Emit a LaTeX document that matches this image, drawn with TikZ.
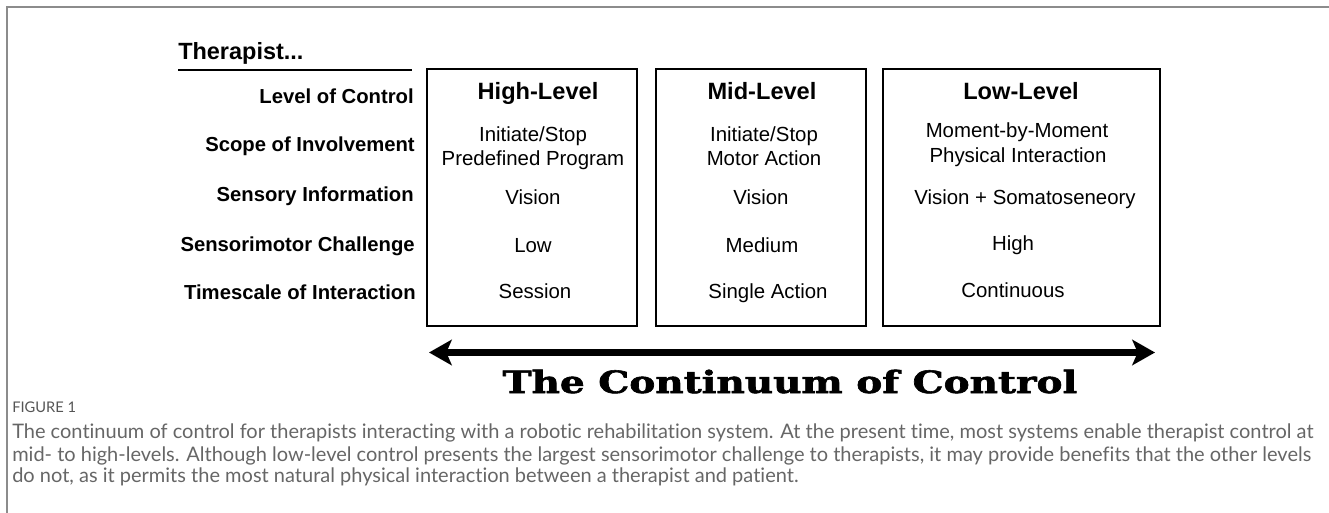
\documentclass[tikz,border=0pt]{standalone}
\usepackage{fontspec}
\setmainfont{Liberation Sans}
\newfontfamily\capfont{Lato}[Ligatures={NoCommon}]
\newfontfamily\titlefont{DejaVu Serif}[BoldFeatures={FakeBold=1.8}]
\usetikzlibrary{arrows.meta}
\definecolor{framegray}{HTML}{8C8C8C}
\definecolor{capgray}{HTML}{666666}
\definecolor{figgray}{HTML}{555555}
\tikzset{
  lab/.style={font=\bfseries\fontsize{15.2}{18}\selectfont, anchor=base east, inner sep=0pt},
  hdr/.style={font=\bfseries\fontsize{17.7}{20}\selectfont, anchor=base, inner sep=0pt},
  cell/.style={font=\fontsize{15.3}{18}\selectfont, anchor=base, inner sep=0pt},
  levelbox/.style={draw, line width=1.5pt, minimum height=192.75pt, inner sep=0pt},
  capline/.style={anchor=base west, inner sep=0pt, text=capgray, font=\capfont\fontsize{15}{18}\selectfont},
  bigarrow/.style={line width=5pt, {Stealth[length=17pt,width=19pt,inset=4pt]}-{Stealth[length=17pt,width=19pt,inset=4pt]}},
}
\begin{document}
\begin{tikzpicture}[x=0.75pt,y=-0.75pt]
\useasboundingbox (0,0) rectangle (1329,513);
% outer frame
\draw[framegray, line width=1.5pt] (7,513) -- (7,7) -- (1329,7);

% header
\node[font=\bfseries\fontsize{17.6}{20}\selectfont, anchor=base west, inner sep=0pt] (ther) at (178,60) {Therapist...};
\coordinate (u1) at (178,70);
\coordinate (u2) at (412,70);
\draw[line width=1.5pt] (u1) -- (u2);

% row labels
\node[lab] (r1) at (414,104) {Level of Control};
\node[lab] (r2) at (415,152) {Scope of Involvement};
\node[lab] (r3) at (414,202) {Sensory Information};
\node[lab] (r4) at (415,252) {Sensorimotor Challenge};
\node[lab] (r5) at (416,300) {Timescale of Interaction};

% boxes
\node[levelbox, minimum width=157.5pt] (b1) at (532,197.5) {};
\node[levelbox, minimum width=157.5pt] (b2) at (761,197.5) {};
\node[levelbox, minimum width=207.75pt] (b3) at (1021.5,197.5) {};

% box 1
\node[hdr] (h1) at (538,100) {High-Level};
\node[cell] (s1a) at (533,142) {Initiate/Stop};
\node[cell] (s1b) at (533,166) {Predefined Program};
\node[cell] (v1) at (533,205) {Vision};
\node[cell] (c1) at (533,253) {Low};
\node[cell] (t1) at (535,299) {Session};

% box 2
\node[hdr] (h2) at (762,100) {Mid-Level};
\node[cell] (s2a) at (764,142) {Initiate/Stop};
\node[cell] (s2b) at (764,166) {Motor Action};
\node[cell] (v2) at (761,205) {Vision};
\node[cell] (c2) at (762,253) {Medium};
\node[cell] (t2) at (768,299) {Single Action};

% box 3
\node[hdr] (h3) at (1021,100) {Low-Level};
\node[cell] (s3a) at (1017,138) {Moment-by-Moment};
\node[cell] (s3b) at (1018,163) {Physical Interaction};
\node[cell] (v3) at (1025,205) {Vision + Somatoseneory};
\node[cell] (c3) at (1013,251) {High};
\node[cell] (t3) at (1013,298) {Continuous};

% continuum arrow
\coordinate (aL) at (429,352.5);
\coordinate (aR) at (1155,352.5);
\draw[bigarrow] (aL) -- (aR);
\node[anchor=base, inner sep=0pt] (title) at (790,393)
  {\resizebox{431pt}{17.5pt}{\titlefont\bfseries The Continuum of Control}};

% caption
\node[anchor=base west, inner sep=0pt, text=figgray, font=\capfont\fontsize{11}{13}\selectfont] (fig) at (12,412) {FIGURE 1};
\node[capline] (cap1) at (12,438) {The continuum of control for therapists interacting with a robotic rehabilitation system. At the present time, most systems enable therapist control at};
\node[capline] (cap2) at (12,461) {mid- to high-levels. Although low-level control presents the largest sensorimotor challenge to therapists, it may provide benefits that the other levels};
\node[capline] (cap3) at (12,483) {do not, as it permits the most natural physical interaction between a therapist and patient.};
\end{tikzpicture}
\end{document}
